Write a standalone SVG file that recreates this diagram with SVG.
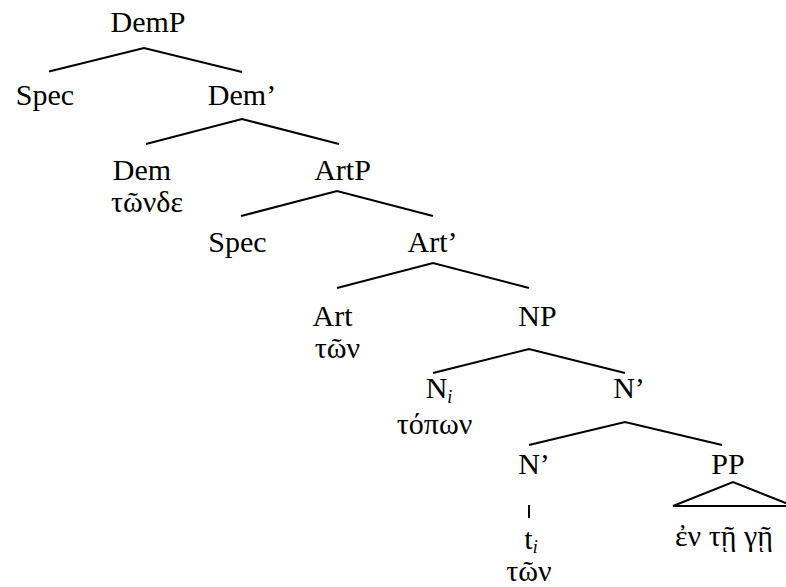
<svg xmlns="http://www.w3.org/2000/svg" width="786" height="587" viewBox="0 0 786 587">
  <style>
    text { font-family: 'Liberation Serif', 'Times New Roman', 'Nimbus Roman', serif; font-size: 30px; fill: #000; text-anchor: middle; }
    .sub { font-size: 18px; font-style: italic; }
    .start { text-anchor: start; }
    .edge { fill: none; stroke: #000; stroke-width: 2; stroke-linejoin: miter; }
  </style>
  <rect width="786" height="587" fill="#fff"/>

  <!-- branches -->
  <g id="connectors">
    <polyline class="edge" points="49,71.5 144,48 242,72"/>
    <polyline class="edge" points="146,144 242,119 339,144"/>
    <polyline class="edge" points="241,216 337,191 433,216"/>
    <polyline class="edge" points="337,288 433,263 529,288"/>
    <polyline class="edge" points="433,373 529,349 625,373"/>
    <polyline class="edge" points="529,445 625,422 722,445"/>
    <line class="edge" x1="529" y1="505" x2="529" y2="518"/>
    <polygon class="edge" points="673,506 733,482 793,506"/>
  </g>

  <g id="DemP"><text x="148" y="32">DemP</text></g>
  <g id="Spec1"><text x="45" y="105">Spec</text></g>
  <g id="DemBar"><text x="242" y="105">Dem’</text></g>
  <g id="Dem">
    <text x="142" y="180">Dem</text>
    <text x="147" y="212">τῶνδε</text>
  </g>
  <g id="ArtP"><text x="342.5" y="180">ArtP</text></g>
  <g id="Spec2"><text x="237.5" y="252">Spec</text></g>
  <g id="ArtBar"><text x="432.5" y="252">Art’</text></g>
  <g id="Art">
    <text x="332.5" y="326">Art</text>
    <text x="337.5" y="358">τῶν</text>
  </g>
  <g id="NP"><text x="537.5" y="326">NP</text></g>
  <g id="Ni">
    <text x="439" y="398">N<tspan class="sub" dy="5">i</tspan></text>
    <text x="434.5" y="434">τόπων</text>
  </g>
  <g id="NBar1"><text x="629" y="398">N’</text></g>
  <g id="NBar2"><text x="534" y="474">N’</text></g>
  <g id="PP">
    <text x="728" y="474">PP</text>
    <text class="start" x="675" y="546">ἐν τῇ γῇ</text>
  </g>
  <g id="trace">
    <text x="531" y="549">t<tspan class="sub" dy="4">i</tspan></text>
    <text x="529" y="581">τῶν</text>
  </g>
</svg>
